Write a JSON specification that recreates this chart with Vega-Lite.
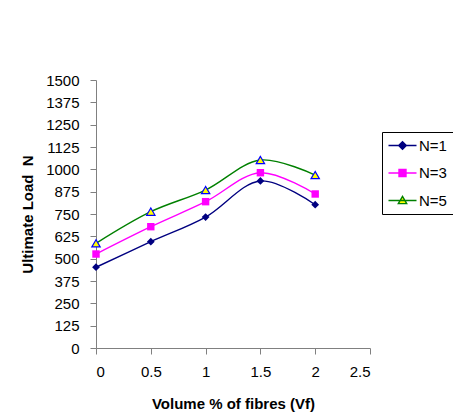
{
  "$schema": "https://vega.github.io/schema/vega-lite/v6.json",
  "width": 274,
  "height": 268,
  "autosize": {"type": "none"},
  "padding": {"left": 96, "top": 80, "right": 83, "bottom": 70},
  "background": "white",
  "config": {
    "view": {"stroke": null},
    "font": "Liberation Sans",
    "axis": {
      "grid": false,
      "domainColor": "#808080",
      "tickColor": "#808080",
      "labelColor": "black",
      "titleColor": "black",
      "labelFont": "Liberation Sans",
      "labelFontSize": 15,
      "titleFont": "Liberation Sans",
      "titleFontSize": 15,
      "titleFontWeight": "bold",
      "tickSize": 6
    }
  },
  "data": {
    "values": [
      {"vf": 0, "load": 452, "N": "N=1"},
      {"vf": 0.5, "load": 595, "N": "N=1"},
      {"vf": 1, "load": 733, "N": "N=1"},
      {"vf": 1.5, "load": 935, "N": "N=1"},
      {"vf": 2, "load": 802, "N": "N=1"},
      {"vf": 0, "load": 526, "N": "N=3"},
      {"vf": 0.5, "load": 679, "N": "N=3"},
      {"vf": 1, "load": 819, "N": "N=3"},
      {"vf": 1.5, "load": 981, "N": "N=3"},
      {"vf": 2, "load": 862, "N": "N=3"},
      {"vf": 0, "load": 586, "N": "N=5"},
      {"vf": 0.5, "load": 763, "N": "N=5"},
      {"vf": 1, "load": 884, "N": "N=5"},
      {"vf": 1.5, "load": 1052, "N": "N=5"},
      {"vf": 2, "load": 968, "N": "N=5"}
    ]
  },
  "encoding": {
    "x": {
      "field": "vf", "type": "quantitative",
      "scale": {"domain": [0, 2.5], "nice": false, "zero": false},
      "axis": {"values": [0, 0.5, 1, 1.5, 2, 2.5], "format": "~g", "title": "Volume % of fibres (Vf)", "labelPadding": 10, "titlePadding": 17}
    },
    "y": {
      "field": "load", "type": "quantitative",
      "scale": {"domain": [0, 1500], "nice": false},
      "axis": {"values": [0, 125, 250, 375, 500, 625, 750, 875, 1000, 1125, 1250, 1375, 1500], "format": "d", "title": "Ultimate Load\u00a0 N", "labelPadding": 11, "titlePadding": 10}
    }
  },
  "layer": [
    {
      "mark": {"type": "line", "interpolate": "catmull-rom", "strokeWidth": 1.4},
      "encoding": {
        "color": {
          "field": "N", "type": "nominal",
          "scale": {"domain": ["N=1", "N=3", "N=5"], "range": ["#000080", "#FF00FF", "#008000"]},
          "legend": {
            "orient": "none",
            "legendX": 286,
            "legendY": 52,
            "title": null,
            "strokeColor": "black",
            "fillColor": "white",
            "padding": 5.5,
            "symbolSize": 196,
            "symbolStrokeWidth": 1.4,
            "rowPadding": 11.5,
            "labelOffset": 15.5,
            "labelFont": "Liberation Sans",
            "labelFontSize": 15,
            "labelColor": "black",
            "encode": {
              "symbols": {
                "update": {
                  "shape": {"signal": "datum.value == 'N=1' ? 'M-1,0H3M1,-0.55L1.55,0L1,0.55L0.45,0Z' : datum.value == 'N=3' ? 'M-1,0H3M0.5,-0.5H1.5V0.5H0.5Z' : 'M-1,0H3M1,-0.6L1.6,0.45L0.4,0.45Z'"},
                  "fill": {"signal": "datum.value == 'N=1' ? '#000080' : datum.value == 'N=3' ? '#FF00FF' : '#FFFF00'"},
                  "size": {"value": 196},
                  "fillOpacity": {"value": 1},
                  "strokeOpacity": {"value": 1},
                  "strokeWidth": {"value": 1.4}
                }
              }
            }
          }
        }
      }
    },
    {
      "transform": [{"filter": {"field": "N", "equal": "N=1"}}],
      "mark": {"type": "point", "shape": "diamond", "filled": true, "color": "#000080", "opacity": 1, "size": 60}
    },
    {
      "transform": [{"filter": {"field": "N", "equal": "N=3"}}],
      "mark": {"type": "point", "shape": "square", "filled": true, "color": "#FF00FF", "opacity": 1, "size": 55}
    },
    {
      "transform": [{"filter": {"field": "N", "equal": "N=5"}}],
      "mark": {"type": "point", "shape": "triangle-up", "fill": "#FFFF00", "stroke": "#0000FF", "strokeWidth": 1.2, "opacity": 1, "size": 70}
    }
  ]
}
